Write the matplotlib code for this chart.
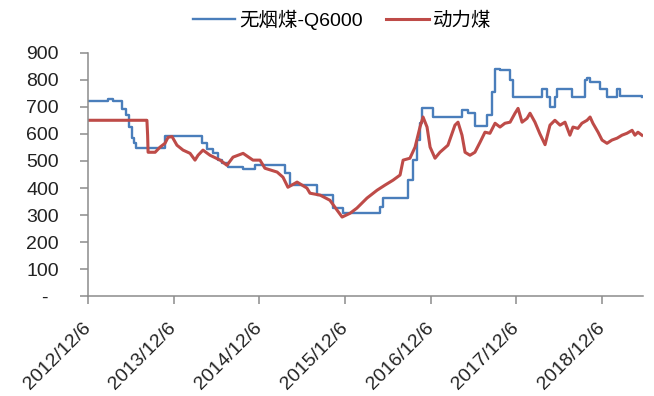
import matplotlib
matplotlib.use("Agg")
import matplotlib.pyplot as plt
import matplotlib.dates as mdates
import pandas as pd

# 无烟煤-Q6000 weekly price (step changes)
anthracite_dates = [
    "2012-12-06", "2013-03-01", "2013-03-23", "2013-04-30", "2013-05-17",
    "2013-05-30", "2013-06-12", "2013-06-20", "2013-06-29", "2013-10-30",
    "2014-04-06", "2014-04-27", "2014-05-23", "2014-06-13", "2014-06-30",
    "2014-07-26", "2014-09-28", "2014-11-18", "2015-03-26", "2015-04-16",
    "2015-08-09", "2015-10-16", "2015-11-28", "2016-05-04", "2016-05-16",
    "2016-08-31", "2016-09-21", "2016-10-08", "2016-10-21", "2016-10-30",
    "2016-12-15", "2017-04-18", "2017-05-14", "2017-06-12", "2017-08-03",
    "2017-08-24", "2017-09-06", "2017-09-27", "2017-11-09", "2017-11-21",
    "2018-03-25", "2018-04-15", "2018-04-28", "2018-05-19", "2018-05-28",
    "2018-07-30", "2018-09-24", "2018-10-03", "2018-10-16", "2018-11-27",
    "2018-12-27", "2019-02-08", "2019-02-20", "2019-05-26",
]
anthracite = [
    721, 730, 721, 690, 668,
    624, 583, 565, 548, 591,
    565, 543, 528, 503, 492,
    478, 470, 484, 455, 413,
    374, 326, 308, 330, 365,
    429, 503, 576, 640, 695,
    662, 687, 676, 628, 668,
    753, 841, 834, 797, 736,
    767, 736, 700, 736, 767,
    736, 797, 805, 790, 767,
    736, 767, 740, 736,
]

# 动力煤 weekly price
thermal_dates = [
    "2012-12-06", "2013-08-14", "2013-08-17", "2013-08-19", "2013-09-18",
    "2013-10-09", "2013-10-30", "2013-11-12", "2013-11-29", "2013-12-20",
    "2014-01-15", "2014-02-14", "2014-03-07", "2014-03-20", "2014-04-10",
    "2014-05-10", "2014-06-22", "2014-07-21", "2014-08-16", "2014-09-28",
    "2014-11-09", "2014-12-09", "2014-12-30", "2015-02-20", "2015-03-17",
    "2015-04-07", "2015-05-16", "2015-06-27", "2015-07-10", "2015-08-22",
    "2015-10-03", "2015-11-02", "2015-11-24", "2015-12-28", "2016-01-26",
    "2016-03-09", "2016-04-21", "2016-05-25", "2016-06-28", "2016-07-28",
    "2016-08-10", "2016-09-08", "2016-09-30", "2016-10-21", "2016-11-03",
    "2016-11-20", "2016-12-03", "2016-12-24", "2017-01-14", "2017-02-17",
    "2017-03-19", "2017-04-01", "2017-04-18", "2017-05-01", "2017-05-22",
    "2017-06-12", "2017-07-04", "2017-07-25", "2017-08-15", "2017-09-06",
    "2017-09-27", "2017-10-18", "2017-11-09", "2017-11-30", "2017-12-13",
    "2017-12-30", "2018-01-20", "2018-02-02", "2018-02-23", "2018-03-16",
    "2018-04-07", "2018-04-28", "2018-05-19", "2018-06-10", "2018-07-01",
    "2018-07-22", "2018-08-04", "2018-08-25", "2018-09-11", "2018-10-03",
    "2018-10-16", "2018-10-28", "2018-11-19", "2018-12-06", "2018-12-27",
    "2019-01-17", "2019-02-08", "2019-03-01", "2019-03-22", "2019-04-13",
    "2019-04-25", "2019-05-08", "2019-05-25",
]
thermal = [
    650, 650, 595, 532, 532,
    551, 565, 587, 590, 558,
    540, 528, 503, 521, 540,
    521, 503, 484, 514, 528,
    503, 503, 473, 459, 440,
    403, 422, 400, 381, 374,
    355, 319, 293, 307, 326,
    363, 392, 411, 429, 448,
    503, 510, 551, 625, 662,
    625, 551, 510, 532, 558,
    632, 643, 595, 532, 521,
    532, 569, 606, 602, 639,
    625, 639, 643, 676, 694,
    643, 657, 676, 643, 600,
    560, 632, 650, 632, 643,
    595, 625, 620, 639, 650,
    662, 639, 606, 577, 565,
    577, 584, 595, 602, 613,
    595, 606, 595,
]

tick_dates = ["2012-12-06", "2013-12-06", "2014-12-06", "2015-12-06",
              "2016-12-06", "2017-12-06", "2018-12-06"]
y_ticks = [0, 100, 200, 300, 400, 500, 600, 700, 800, 900]

plt.rcParams["font.family"] = ["Liberation Sans", "Noto Sans CJK SC"]
axis_grey = "#8c8c8c"

fig = plt.figure(figsize=(6.54, 3.96), dpi=100)
ax = fig.add_axes([0.1346, 0.2513, 0.8484, 0.6161])

ax.plot(pd.to_datetime(anthracite_dates), anthracite, color="#4a7ebb",
        lw=1.7, drawstyle="steps-post", label="无烟煤-Q6000")
ax.plot(pd.to_datetime(thermal_dates), thermal, color="#be4b48",
        lw=2.2, label="动力煤")

ax.set_xlim(pd.Timestamp("2012-12-06"), pd.Timestamp("2019-05-29"))
ax.set_ylim(0, 900)
ax.set_yticks(y_ticks)
ax.set_yticklabels(["-  " if v == 0 else str(v) for v in y_ticks])
ax.set_xticks(pd.to_datetime(tick_dates))
ax.xaxis.set_major_formatter(mdates.DateFormatter("%Y/%m/%d"))
ax.set_xticklabels([d.replace("-", "/").replace("/0", "/") for d in
                    [t[:4] + "/" + str(int(t[5:7])) + "/" + str(int(t[8:]))
                     for t in tick_dates]])

for s in ("top", "right"):
    ax.spines[s].set_visible(False)
for s in ("left", "bottom"):
    ax.spines[s].set_color(axis_grey)
    ax.spines[s].set_linewidth(1.1)

ax.tick_params(axis="y", direction="out", length=6, width=1.1,
               color=axis_grey, labelsize=14, pad=15, labelcolor="#222222")
ax.tick_params(axis="x", direction="out", length=6, width=1.1,
               color=axis_grey, labelsize=14, pad=15, labelcolor="#222222")
for lab in ax.get_xticklabels():
    lab.set_rotation(45)
    lab.set_ha("right")
    lab.set_va("center")
    lab.set_rotation_mode("anchor")

fig.legend(loc="upper center", bbox_to_anchor=(0.523, 1.02), ncol=2,
           frameon=False, fontsize=14, handlelength=2.2, handletextpad=0.2,
           columnspacing=1.2)

fig.savefig("out.png", dpi=100)
